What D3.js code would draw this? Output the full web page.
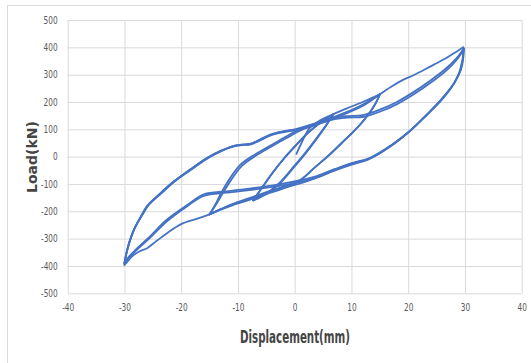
<!DOCTYPE html>
<html>
<head>
<meta charset="utf-8">
<script src="https://cdnjs.cloudflare.com/ajax/libs/d3/7.8.5/d3.min.js"></script>
<style>
body { margin: 0; background: #fff; }
svg { display: block; }
</style>
</head>
<body>
<svg id="chart" width="531" height="363"></svg>
<script>
/*
/   Data: [displacement (mm), load (kN)]
*/

const xTicks = [-40, -30, -20, -10, 0, 10, 20, 30, 40];
const yTicks = [-500, -400, -300, -200, -100, 0, 100, 200, 300, 400, 500];

const initialLoad = [[0.3, 10], [1.2, 50], [2.7, 106], [4.5, 133], [6.8, 155]];

// +-7 mm cycles
const down7a = [[6.8, 155], [5.5, 112], [4, 68], [2, 14], [0, -36], [-2.6, -98], [-4.5, -130], [-6, -148], [-7.3, -160]];
const up7a = [[-7.3, -160], [-6.5, -136], [-5.5, -106], [-4, -62], [-2, -10], [0, 36], [2, 80], [4, 116], [5.6, 140], [6.8, 155]];
const down7b = [[6.8, 155], [5.6, 118], [4, 72], [2, 18], [0, -32], [-2.6, -94], [-4.5, -127], [-6, -146], [-7.3, -160]];
const up7b = [[-7.3, -160], [-6.4, -132], [-5.3, -100], [-3.8, -56], [-1.8, -4], [0.2, 42], [2.2, 85], [4.2, 120], [5.8, 143], [6.8, 155], [9, 175], [12, 200], [15, 228]];

// +-15 mm cycles
const down15a = [[15, 228], [14.5, 205], [13.5, 170], [12.1, 131], [10.5, 95], [8.6, 57], [6.2, 9], [3.5, -40], [1, -85], [-2, -110], [-5, -130], [-8, -152], [-11, -174], [-13, -192], [-15, -211]];
const up15a = [[-15, -211], [-14, -176], [-13, -135], [-11.5, -82], [-9.6, -30], [-7, 8], [-4.9, 33], [-2.5, 62], [-0.8, 82], [1.5, 106], [4, 124], [7, 146], [10, 170], [12.5, 196], [15, 228]];
const down15b = [[15, 228], [14.4, 200], [13.3, 163], [11.8, 124], [10.2, 88], [8.3, 50], [6, 4], [3.3, -44], [0.8, -90], [-2, -116], [-5, -137], [-8, -158], [-11, -178], [-13, -194], [-15, -211]];
const up15b = [[-15, -211], [-14, -180], [-12.8, -138], [-11.2, -85], [-9.3, -34], [-6.8, 4], [-4.7, 30], [-2.3, 58], [-0.6, 78], [1.7, 102], [4.2, 120], [7.2, 142], [10, 166], [12.5, 192], [15, 228]];

// +-30 mm cycles
const up30env = [[15, 228], [17, 256], [19, 280], [20.9, 298], [23, 320], [25, 342], [26.8, 362], [28.5, 384], [29.7, 400]];
const down30a = [[29.7, 400], [29.7, 360], [29.3, 318], [28.2, 272], [26.1, 216], [23.2, 152], [20.3, 94], [17, 42], [13.3, -4], [10, -24], [7, -48], [4, -76], [1, -98], [-2, -115], [-5, -135], [-8, -155], [-11, -176], [-13.5, -196], [-15, -211], [-17, -226], [-20, -247], [-22.5, -280], [-24.3, -308], [-26, -335], [-27.3, -346], [-28.5, -362], [-29.4, -382], [-30, -396]];
const up30a = [[-30, -396], [-29.7, -360], [-29.2, -315], [-28.3, -265], [-27.2, -222], [-26, -180], [-24, -140], [-21.4, -92], [-18.5, -48], [-15.5, -5], [-13, 22], [-11, 38], [-9.5, 43], [-7.9, 46], [-6.2, 62], [-4.4, 80], [-2, 92], [0, 100], [3, 117], [6.3, 140], [9, 148], [12, 152], [15, 172], [18, 200], [21, 237], [23.8, 277], [26.5, 320], [28.5, 360], [29.8, 396]];
const down30b = [[29.8, 396], [29.6, 352], [29.1, 312], [28, 266], [26, 212], [23, 148], [20.2, 92], [17, 40], [13.3, -6], [10, -26], [7, -46], [4, -70], [1, -86], [-3, -102], [-8, -117], [-12, -127], [-16, -138], [-19, -178], [-22.6, -232], [-25.5, -292], [-28, -340], [-29.3, -368], [-30, -390]];
const up30b = [[-30, -390], [-29.7, -356], [-29.1, -312], [-28.2, -262], [-27, -218], [-25.8, -178], [-23.8, -138], [-21.2, -90], [-18.3, -46], [-15.3, -4], [-12.8, 22], [-10.8, 37], [-9.3, 42], [-7.7, 45], [-6, 60], [-4.2, 78], [-1.8, 90], [0.2, 97], [3.2, 113], [6.5, 135], [9.2, 143], [12.2, 146], [15.2, 166], [18.2, 194], [21.2, 231], [24, 271], [26.7, 315], [28.6, 356], [29.8, 392]];
const down30c = [[29.8, 392], [29.5, 348], [29, 308], [27.9, 262], [25.9, 208], [22.9, 145], [20.1, 90], [16.9, 38], [13.2, -8], [9.9, -30], [6.9, -52], [4, -76], [1, -92], [-3, -108], [-8, -122], [-12, -132], [-16, -144], [-19, -182], [-22.6, -238], [-25.5, -297], [-28, -345], [-29.3, -372], [-30, -388]];
const up30c = [[-30, -388], [-29.6, -350], [-29, -306], [-28.1, -258], [-26.9, -214], [-25.7, -176], [-23.6, -136], [-21, -88], [-18, -44], [-15, -2], [-12.6, 24], [-10.6, 40], [-9.1, 45], [-7.5, 49], [-5.8, 64], [-4, 82], [-1.6, 94], [0.2, 98]];

const branches = [
    initialLoad, down7a, up7a, down7b, up7b,
    down15a, up15a, down15b, up15b,
    up30env, down30a, up30a, down30b, up30b, down30c, up30c
];

/*
/   Layout
*/

const svg = d3.select("#chart");
const plotLeft = 67.7;
const plotRight = 521.7;
const plotTop = 20;
const plotBottom = 293.3;
const gridColor = "#d9d9d9";
const labelFont = "'DejaVu Sans Condensed', 'DejaVu Sans', sans-serif";

const x = d3.scaleLinear().domain([-40, 40]).range([plotLeft, plotRight]);
const y = d3.scaleLinear().domain([-500, 500]).range([plotBottom, plotTop]);

// narrow a text the way the original condensed font looks
function squeeze(sel, factor) {
    sel.each(function () {
        const w = this.getComputedTextLength();
        d3.select(this)
            .attr("textLength", w * factor)
            .attr("lengthAdjust", "spacingAndGlyphs");
    });
}

// chart frame
svg.append("rect")
    .attr("x", 7.5)
    .attr("y", 5.5)
    .attr("width", 540)
    .attr("height", 400)
    .attr("fill", "#fff")
    .attr("stroke", gridColor);

/*
/   Axes and grid
*/

const yAxis = svg.append("g")
    .attr("transform", `translate(${plotLeft},0)`)
    .call(d3.axisLeft(y)
        .tickValues(yTicks)
        .tickSize(-(plotRight - plotLeft))
        .tickPadding(10)
        .tickFormat(d => String(d)));

const xAxis = svg.append("g")
    .attr("transform", `translate(0,${plotBottom})`)
    .call(d3.axisBottom(x)
        .tickValues(xTicks)
        .tickSize(-(plotBottom - plotTop))
        .tickPadding(11)
        .tickFormat(d => String(d)));

[xAxis, yAxis].forEach(g => {
    g.select(".domain").remove();
    g.selectAll(".tick line").attr("stroke", gridColor);
    g.selectAll(".tick text")
        .attr("fill", "#595959")
        .style("font-family", labelFont)
        .style("font-size", "10px")
        .call(squeeze, 0.82);
});

/*
/   Hysteresis curves
*/

const lineGenerator = d3.line()
    .x(d => x(d[0]))
    .y(d => y(d[1]))
    .curve(d3.curveCatmullRom.alpha(0.5));

svg.append("g")
    .selectAll("path")
    .data(branches)
    .join("path")
    .attr("d", lineGenerator)
    .attr("fill", "none")
    .attr("stroke", "#4472c4")
    .attr("stroke-width", 1.8)
    .attr("stroke-linejoin", "round")
    .attr("stroke-linecap", "round");

/*
/   Titles
*/

svg.append("text")
    .attr("x", 295)
    .attr("y", 343)
    .attr("text-anchor", "middle")
    .attr("fill", "#454545")
    .attr("textLength", 110)
    .attr("lengthAdjust", "spacingAndGlyphs")
    .style("font-family", labelFont)
    .style("font-size", "17px")
    .style("font-weight", "bold")
    .text("Displacement(mm)");

svg.append("text")
    .attr("transform", "translate(37,157) rotate(-90)")
    .attr("text-anchor", "middle")
    .attr("fill", "#454545")
    .style("font-family", "'DejaVu Sans', sans-serif")
    .style("font-size", "14px")
    .style("font-weight", "bold")
    .text("Load(kN)");
</script>
</body>
</html>
